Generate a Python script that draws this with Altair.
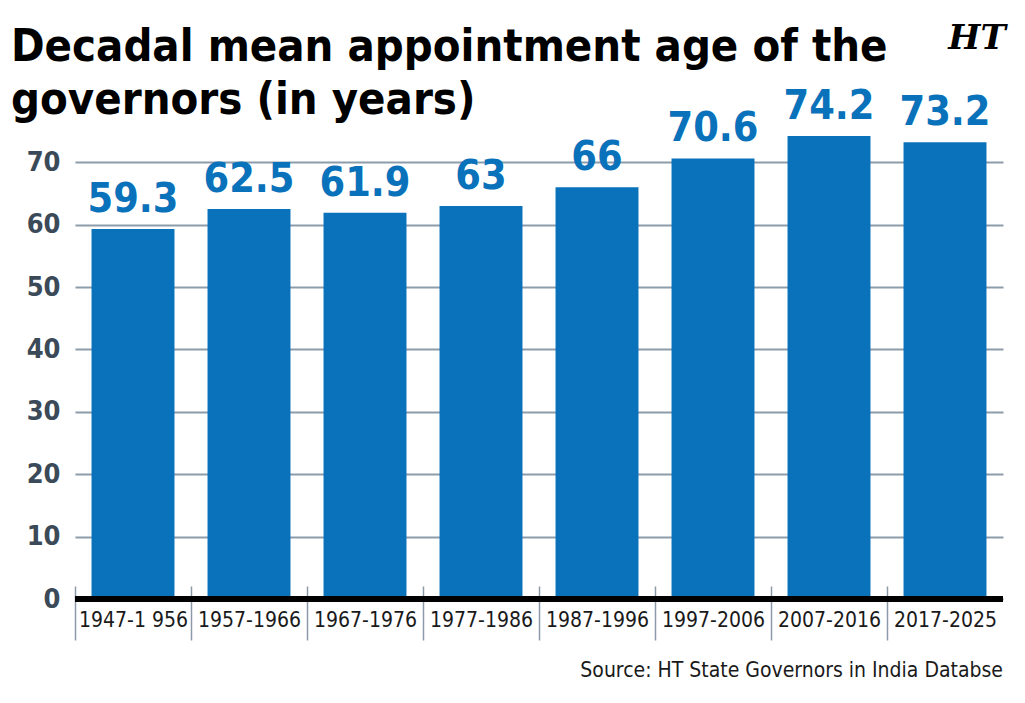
import altair as alt
import pandas as pd

periods = ["1947-1 956", "1957-1966", "1967-1976", "1977-1986",
           "1987-1996", "1997-2006", "2007-2016", "2017-2025"]
ages = [59.3, 62.5, 61.9, 63, 66, 70.6, 74.2, 73.2]
value_labels = ["59.3", "62.5", "61.9", "63", "66", "70.6", "74.2", "73.2"]
y_ticks = [0, 10, 20, 30, 40, 50, 60, 70]
title_text = ["Decadal mean appointment age of the\ngovernors (in years)"]
source_text = ["Source: HT State Governors in India Databse"]
logo_text = ["HT"]

df = pd.DataFrame({"period": periods, "age": ages, "label": value_labels})

FONT = "DejaVu Sans Condensed, DejaVu Sans, sans-serif"
BLUE = "#0a72ba"

x_enc = alt.X(
    "period:N", sort=periods, title=None,
    scale=alt.Scale(paddingInner=0.285, paddingOuter=0.1425),
    axis=alt.Axis(domain=False, ticks=True, tickOffset=-58, labelOffset=58, tickSize=54,
                  tickColor="#8c9aa8", tickWidth=1.5, offset=-13, labelPadding=-31,
                  labelFont=FONT, labelFontSize=21, labelColor="#1a1a1a",
                  labelAngle=0, labelBaseline="top"),
)
y_enc = alt.Y(
    "age:Q", title=None,
    scale=alt.Scale(domain=[0, 75], nice=False),
    axis=alt.Axis(values=y_ticks, domain=False, ticks=False, grid=True,
                  gridColor="#8c9cab", gridWidth=2, labelFont=FONT,
                  labelFontSize=27, labelFontWeight="bold", labelColor="#3b4a58",
                  labelPadding=15),
)

bars = alt.Chart(df).mark_bar(color=BLUE).encode(x=x_enc, y=y_enc)

values = alt.Chart(df).mark_text(
    color=BLUE, font=FONT, fontSize=41, fontWeight="bold",
    baseline="alphabetic", dy=-17,
).encode(x=alt.X("period:N", sort=periods), y="age:Q", text="label:N")

baseline = alt.Chart(df).mark_rule(color="black", strokeWidth=5).encode(y=alt.datum(0))

source = alt.Chart(pd.DataFrame({"t": source_text})).mark_text(
    font=FONT, fontSize=21, color="#1a1a1a", align="right", baseline="alphabetic"
).encode(x=alt.value(928), y=alt.value(546), text="t:N")

logo = alt.Chart(pd.DataFrame({"t": logo_text})).mark_text(
    font="DejaVu Serif", fontSize=34, fontWeight="bold", fontStyle="italic",
    color="black", align="center", baseline="middle"
).encode(x=alt.value(902), y=alt.value(-92), text="t:N")

title = alt.Chart(pd.DataFrame({"t": title_text})).mark_text(
    font=FONT, fontSize=45, fontWeight="bold", color="black", align="left",
    baseline="top", lineBreak="\n", lineHeight=53
).encode(x=alt.value(-64), y=alt.value(-106), text="t:N")

chart = alt.layer(bars, baseline, values, source, logo, title).properties(
    width=928, height=468,
    autosize=alt.AutoSizeParams(type="none"),
    padding={"left": 75, "top": 131, "right": 22, "bottom": 104},
).configure(background="white").configure_view(stroke=None)

chart.save("out.html", embed_options={"renderer": "svg", "actions": False})
